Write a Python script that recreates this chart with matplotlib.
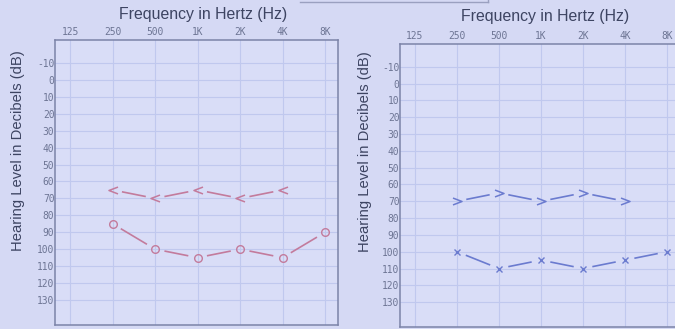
import numpy as np
import matplotlib
matplotlib.use("Agg")
import matplotlib.pyplot as plt
from matplotlib.lines import Line2D
from matplotlib.path import Path

# ---- data ----
freqs = [125, 250, 500, 1000, 2000, 4000, 8000]
freq_labels = ["125", "250", "500", "1K", "2K", "4K", "8K"]
db_ticks = list(range(-10, 140, 10))

left_circle_f = [250, 500, 1000, 2000, 4000, 8000]
left_circle_db = [85, 100, 105, 100, 105, 90]
left_lt_f = [250, 500, 1000, 2000, 4000]
left_lt_db = [65, 70, 65, 70, 65]

right_x_f = [250, 500, 1000, 2000, 4000, 8000]
right_x_db = [100, 110, 105, 110, 105, 100]
right_gt_f = [250, 500, 1000, 2000, 4000]
right_gt_db = [70, 65, 70, 65, 70]

title_text = "Frequency in Hertz (Hz)"
ylabel_text = "Hearing Level in Decibels (dB)"

# ---- style ----
FIG_BG = "#d5d9f4"
AX_BG = "#d9ddf7"
GRID = "#c0c8ee"
SPINE = "#7c84a8"
TICK = "#6d7594"
TEXT = "#3d4462"
RED = "#c37b9c"
BLUE = "#6b7bcf"

LT = Path([(0.5, 0.38), (-0.5, 0.0), (0.5, -0.38)],
          [Path.MOVETO, Path.LINETO, Path.LINETO])
GT = Path([(-0.5, 0.38), (0.5, 0.0), (-0.5, -0.38)],
          [Path.MOVETO, Path.LINETO, Path.LINETO])

fig = plt.figure(figsize=(6.75, 3.29), dpi=100, facecolor=FIG_BG)
W, H = 675, 329


def px_axes(x0, y0, x1, y1):
    return fig.add_axes([x0 / W, 1 - y1 / H, (x1 - x0) / W, (y1 - y0) / H])


def setup(ax, xmax):
    ax.set_facecolor(AX_BG)
    ax.set_xscale("log", base=2)
    ax.set_xlim(97.7, xmax)
    ax.set_ylim(144.8, -23.6)
    ax.set_xticks(freqs)
    ax.set_xticklabels(freq_labels)
    ax.minorticks_off()
    ax.set_yticks(db_ticks)
    ax.set_yticklabels([str(v) for v in db_ticks])
    ax.xaxis.tick_top()
    ax.tick_params(axis="both", length=0, colors=TICK, labelsize=6.9)
    ax.tick_params(axis="x", pad=2)
    ax.tick_params(axis="y", pad=0.5)
    for lab in ax.get_xticklabels() + ax.get_yticklabels():
        lab.set_family("DejaVu Sans Mono")
    ax.grid(True, color=GRID, lw=0.8)
    ax.set_axisbelow(True)
    for s in ax.spines.values():
        s.set_color(SPINE)
        s.set_linewidth(1.1)


def gapped_line(ax, fx, dy, color, gap=9.5):
    pts = ax.transData.transform(np.column_stack([fx, dy]))
    inv = ax.transData.inverted()
    for p, q in zip(pts[:-1], pts[1:]):
        d = q - p
        n = np.hypot(*d)
        u = d / n
        a = inv.transform(p + u * gap)
        b = inv.transform(q - u * gap)
        ax.plot([a[0], b[0]], [a[1], b[1]], color=color, lw=1.2, solid_capstyle="butt")


axL = px_axes(55, 40, 338, 325)
setup(axL, 9868)
axR = px_axes(400, 44, 683, 327)
setup(axR, 10405)

fig.canvas.draw()

gapped_line(axL, left_lt_f, left_lt_db, RED)
gapped_line(axL, left_circle_f, left_circle_db, RED)
axL.plot(left_circle_f, left_circle_db, ls="none", marker="o", ms=5.5,
         mfc="none", mec=RED, mew=1.0)
axL.plot(left_lt_f, left_lt_db, ls="none", marker=LT, ms=6.5,
         mfc="none", mec=RED, mew=1.1)

gapped_line(axR, right_gt_f, right_gt_db, BLUE)
gapped_line(axR, right_x_f, right_x_db, BLUE)
axR.plot(right_x_f, right_x_db, ls="none", marker="x", ms=5, mec=BLUE, mew=1.0,
         clip_on=False)
axR.plot(right_gt_f, right_gt_db, ls="none", marker=GT, ms=6.5,
         mfc="none", mec=BLUE, mew=1.1)

# titles and y labels
fig.text(203 / W, 1 - 15 / H, title_text, ha="center", va="center",
         fontsize=11.4, color=TEXT, family="Liberation Sans")
fig.text(545 / W, 1 - 16 / H, title_text, ha="center", va="center",
         fontsize=11.4, color=TEXT, family="Liberation Sans")
fig.text(18.5 / W, 1 - 151 / H, ylabel_text, ha="center", va="center",
         rotation=90, fontsize=10.6, color=TEXT, family="Liberation Sans")
fig.text(365 / W, 1 - 152 / H, ylabel_text, ha="center", va="center",
         rotation=90, fontsize=10.6, color=TEXT, family="Liberation Sans")

# faint frame edge at top
fig.add_artist(Line2D([300 / W, 488 / W], [1 - 2 / H, 1 - 2 / H],
                      color="#9aa0c0", lw=1.0))
fig.add_artist(Line2D([488 / W, 488 / W], [1, 1 - 2 / H], color="#9aa0c0", lw=1.0))

fig.savefig("out.png", dpi=100, facecolor=FIG_BG)
